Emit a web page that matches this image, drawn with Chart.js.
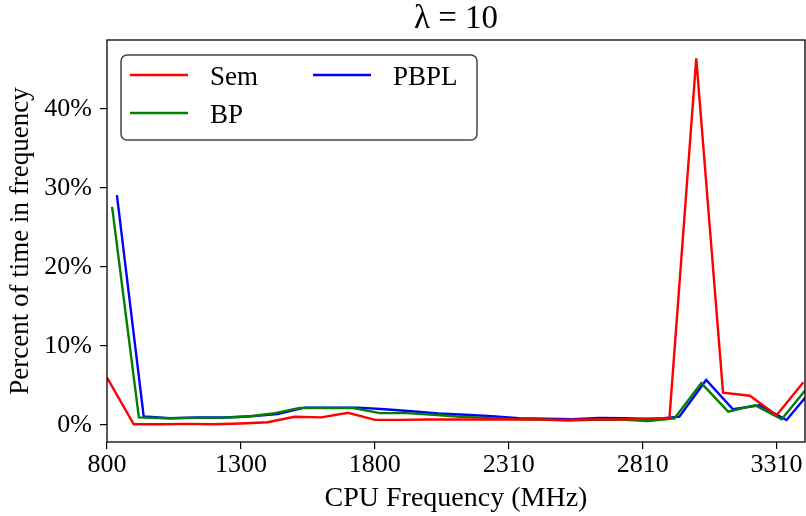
<!DOCTYPE html>
<html>
<head>
<meta charset="utf-8">
<script src="https://cdn.jsdelivr.net/npm/chart.js@4.4.0/dist/chart.umd.min.js"></script>
<style>
  html, body { margin: 0; padding: 0; background: #fff; }
  #wrap { width: 806px; height: 516px; }
</style>
</head>
<body>
<div id="wrap"><canvas id="c" width="806" height="516"></canvas></div>
<script>
// ---- data ----
const frequencies = [800,900,1000,1100,1200,1300,1400,1500,1600,1700,1800,1900,2000,2100,2200,2310,2400,2500,2600,2700,2810,2900,3000,3100,3200,3310,3400];
const xTickLabels = ['800','1300','1800','2310','2810','3310'];
const yTickValues = [0,10,20,30,40];
const semValues  = [6.0,0.1,0.1,0.15,0.1,0.2,0.35,1.05,0.97,1.55,0.65,0.65,0.7,0.7,0.7,0.7,0.7,0.65,0.7,0.7,0.8,0.9,46.4,4.1,3.7,1.25,5.4];
const bpValues   = [27.6,0.97,0.85,0.9,0.9,1.05,1.45,2.15,2.15,2.15,1.5,1.5,1.3,1.05,0.9,0.75,0.7,0.55,0.65,0.7,0.5,0.85,5.3,1.7,2.5,0.72,4.9];
const pbplValues = [29.1,1.1,0.85,0.95,0.95,1.1,1.4,2.2,2.2,2.2,2.0,1.75,1.45,1.3,1.1,0.85,0.8,0.75,0.9,0.85,0.75,1.05,5.7,2.0,2.5,0.63,4.7];
const seriesNames = ['Sem','BP','PBPL'];

// ---- build ----
const FONT = "'Liberation Serif', 'DejaVu Serif', serif";
const colors = ['#ff0000', '#008000', '#0000ff'];
const offsets = [0, 0.19, 0.37];
const allValues = [semValues, bpValues, pbplValues];

function toPoints(vals, off) {
  return vals.map((v, i) => ({ x: i + off, y: v }));
}

const datasets = allValues.map((vals, k) => ({
  label: seriesNames[k],
  data: toPoints(vals, offsets[k]),
  borderColor: colors[k],
  backgroundColor: colors[k],
  borderWidth: 2.4,
  pointRadius: 0,
  tension: 0,
  fill: false
}));

const framePlugin = {
  id: 'frame',
  afterDatasetsDraw(chart) {
    const { ctx, chartArea: a } = chart;
    ctx.save();
    ctx.strokeStyle = '#000';
    ctx.lineWidth = 1.3;
    ctx.strokeRect(a.left, a.top, a.right - a.left, a.bottom - a.top);
    ctx.restore();
  }
};

const legendPlugin = {
  id: 'mplLegend',
  afterDraw(chart) {
    const ctx = chart.ctx;
    const x0 = 121, y0 = 55, w = 356, h = 85, r = 6;
    ctx.save();
    ctx.beginPath();
    ctx.moveTo(x0 + r, y0);
    ctx.arcTo(x0 + w, y0, x0 + w, y0 + h, r);
    ctx.arcTo(x0 + w, y0 + h, x0, y0 + h, r);
    ctx.arcTo(x0, y0 + h, x0, y0, r);
    ctx.arcTo(x0, y0, x0 + w, y0, r);
    ctx.closePath();
    ctx.fillStyle = 'rgba(255,255,255,0.85)';
    ctx.fill();
    ctx.strokeStyle = '#444';
    ctx.lineWidth = 1.5;
    ctx.stroke();
    const slots = [
      { hx: 130, ty: 75, tx: 210 },
      { hx: 130, ty: 113, tx: 210 },
      { hx: 313, ty: 75, tx: 393 }
    ];
    ctx.font = '27px ' + FONT;
    ctx.textBaseline = 'alphabetic';
    ctx.textAlign = 'left';
    chart.data.datasets.forEach((ds, k) => {
      const s = slots[k];
      ctx.beginPath();
      ctx.strokeStyle = ds.borderColor;
      ctx.lineWidth = 2.4;
      ctx.moveTo(s.hx, s.ty);
      ctx.lineTo(s.hx + 58, s.ty);
      ctx.stroke();
      ctx.fillStyle = '#000';
      ctx.fillText(ds.label, s.tx, s.ty + 10);
    });
    ctx.restore();
  }
};

new Chart(document.getElementById('c'), {
  type: 'line',
  data: { datasets },
  options: {
    responsive: false,
    animation: false,
    devicePixelRatio: 1,
    layout: { padding: { left: 0, right: 1, top: 0, bottom: 0 } },
    plugins: {
      legend: { display: false },
      tooltip: { enabled: false },
      title: {
        display: true,
        fullSize: false,
        text: 'λ = 10',
        color: '#000',
        font: { family: FONT, size: 33, weight: 'normal' },
        padding: { top: 0, bottom: 0.4 }
      }
    },
    scales: {
      x: {
        type: 'linear',
        min: 0,
        max: 26.06,
        afterFit(scale) { scale.height = 74; },
        ticks: {
          stepSize: 5,
          includeBounds: false,
          autoSkip: false,
          maxRotation: 0,
          color: '#000',
          padding: 1,
          font: { family: FONT, size: 26 },
          callback: (v) => (v % 5 === 0 ? xTickLabels[v / 5] : '')
        },
        grid: { display: true, drawOnChartArea: false, drawTicks: true, tickLength: 7, color: '#000', lineWidth: 1.2 },
        border: { display: false },
        title: {
          display: true,
          text: 'CPU Frequency (MHz)',
          color: '#000',
          font: { family: FONT, size: 28 },
          padding: { top: 0, bottom: 1 }
        }
      },
      y: {
        type: 'linear',
        min: -2.15,
        max: 48.73,
        afterFit(scale) { scale.width = 107; },
        afterBuildTicks(scale) { scale.ticks = yTickValues.map(v => ({ value: v })); },
        ticks: {
          color: '#000',
          padding: 8,
          font: { family: FONT, size: 26 },
          callback: (v) => v + '%'
        },
        grid: { display: true, drawOnChartArea: false, drawTicks: true, tickLength: 7, color: '#000', lineWidth: 1.2 },
        border: { display: false },
        title: {
          display: true,
          text: 'Percent of time in frequency',
          color: '#000',
          font: { family: FONT, size: 27 },
          padding: { top: 5, bottom: 0 }
        }
      }
    }
  },
  plugins: [framePlugin, legendPlugin]
});
</script>
</body>
</html>
